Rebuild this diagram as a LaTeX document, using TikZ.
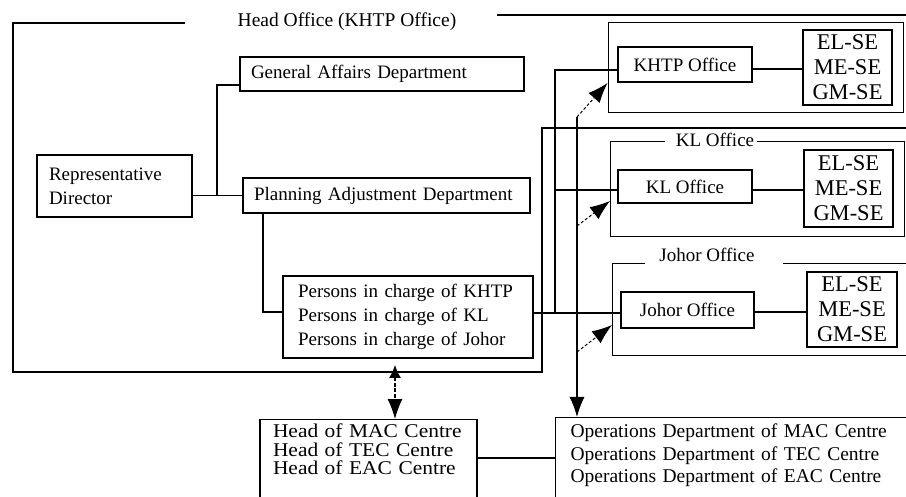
\documentclass[tikz,border=0pt]{standalone}
\usepackage{fontspec}
\setmainfont{Liberation Serif}
\newfontfamily\widefont[FakeStretch=1.1]{Liberation Serif}
\usetikzlibrary{arrows.meta}
\begin{document}
\begin{tikzpicture}[x=1pt,y=-1pt,
  every node/.style={font=\fontsize{19}{24}\selectfont},
  box/.style={draw, line width=1.1pt, inner ysep=0pt},
  lbox/.style={box, align=left},
  cbox/.style={box, align=center},
  grp/.style={line width=1pt},
  frame/.style={line width=2pt},
  conn/.style={line width=1.1pt},
  tipbig/.tip={Latex[length=20pt,width=15pt]},
  tipsmall/.tip={Latex[length=13pt,width=12pt]},
  darrow/.style={line width=1pt, dash pattern=on 3pt off 2pt, -tipbig},
  sarrow/.style={line width=1.2pt, -tipbig},
  dblarrow/.style={line width=1.1pt, dash pattern=on 4pt off 1.5pt, tipsmall-tipbig},
  title/.style={inner sep=0pt, anchor=base},
  sebox/.style={cbox, font=\fontsize{22.5}{25}\selectfont, minimum width=89pt, minimum height=75pt},
]
\useasboundingbox (0,0) rectangle (906,497);

% Head Office frame
\draw[frame] (185,23) -- (13,23) -- (13,372) -- (542,372) -- (542,128) -- (915,128);
\draw[frame] (497,15) -- (915,15);
\node[title, font=\fontsize{19.5}{24}\selectfont] (hot) at (347,27) {Head Office (KHTP Office)};

% group frames
\node[draw, line width=1pt, minimum width=295pt, minimum height=90pt, inner sep=0pt] (kg) at (755.5,68) {};
\draw[grp] (665,142) -- (610,142) -- (610,237) -- (904,237) -- (904,142) -- (757,142);
\node[title] (klt) at (715,147) {KL Office};
\draw[grp] (645,264) -- (612,264) -- (612,356) -- (915,356);
\draw[grp] (783,264) -- (915,264);
\node[title] (jot) at (707,262) {Johor Office};

% left boxes
\node[lbox, text width=131pt, inner xsep=12pt, minimum height=62pt] (rd) at (114.5,186) {Representative\\Director};
\node[lbox, text width=262pt, inner xsep=11pt, minimum height=34pt] (ga) at (382,74) {General Affairs Department};
\node[lbox, text width=265pt, inner xsep=11pt, minimum height=35pt] (pa) at (386.5,195.5) {Planning Adjustment Department};
\node[lbox, text width=220pt, inner xsep=15pt, minimum height=82pt] (pic) at (408,317) {Persons in charge of KHTP\\Persons in charge of KL\\Persons in charge of Johor};

% bottom boxes
\node[lbox, anchor=north, text width=191pt, inner xsep=13pt, inner ysep=4.5pt, text depth=80pt,
      font=\widefont\fontsize{19.5}{18.5}\selectfont] (hm) at (368.5,419) {Head of MAC Centre\\Head of TEC Centre\\Head of EAC Centre};
\node[lbox, anchor=north west, text width=340pt, inner xsep=15pt, inner ysep=6.5pt, text depth=80pt,
      font=\fontsize{19.5}{22.5}\selectfont] (ops) at (555,417) {Operations Department of MAC Centre\\Operations Department of TEC Centre\\Operations Department of EAC Centre};

% office boxes
\node[cbox, minimum width=134pt, minimum height=35pt] (ko) at (685,64.5) {KHTP Office};
\node[sebox] (kse) at (847.5,67.5) {EL-SE\\ME-SE\\GM-SE};
\node[cbox, minimum width=134pt, minimum height=33pt] (klo) at (685,186.5) {KL Office};
\node[sebox, minimum height=77pt] (klse) at (848.5,188.5) {EL-SE\\ME-SE\\GM-SE};
\node[cbox, minimum width=133pt, minimum height=36pt] (jo) at (687.5,310) {Johor Office};
\node[sebox, minimum width=90pt] (jse) at (852,309.5) {EL-SE\\ME-SE\\GM-SE};

% left connectors
\coordinate (jn) at (217,195.5);
\draw[conn] (rd.east |- pa.west) -- (pa.west);
\draw[conn] (jn) |- ([yshift=-11pt]ga.west);
\draw[conn] (pa.south -| 263,0) |- ([yshift=5pt]pic.west);

% Persons -> offices bus
\coordinate (pout) at ([yshift=4pt]pic.east);
\draw[conn] (pout) -- (pout -| jo.west);
\coordinate (bus) at (555,313);
\coordinate (kin) at ([yshift=-5.5pt]ko.west);
\draw[conn] (bus) |- (kin);
\coordinate (klin) at ([yshift=-3.5pt]klo.west);
\draw[conn] (klin -| bus) -- (klin);

% office -> SE connectors
\coordinate (kout) at ([yshift=-4.5pt]ko.east);
\draw[conn] (kout) -- (kout -| kse.west);
\coordinate (klout) at ([yshift=-3.5pt]klo.east);
\draw[conn] (klout) -- (klout -| klse.west);
\coordinate (jout) at ([yshift=-2pt]jo.east);
\draw[conn] (jout) -- (jout -| jse.west);

% arrows
\coordinate (av) at (577,117);
\draw[sarrow] (av) -- (av |- ops.north);
\draw[darrow] (av) -- ([yshift=-15pt]kg.west);
\coordinate (klg) at (610,201);
\coordinate (avk) at (577,226);
\draw[darrow] (avk) -- (klg);
\coordinate (jg) at (612,325);
\coordinate (avj) at (577,352);
\draw[darrow] (avj) -- (jg);

\coordinate (pa1) at (395,365);
\draw[dblarrow] (pa1) -- (pa1 |- hm.north);
\draw[conn] (hm.east |- 0,458) -- (ops.west |- 0,458);
\end{tikzpicture}
\end{document}
